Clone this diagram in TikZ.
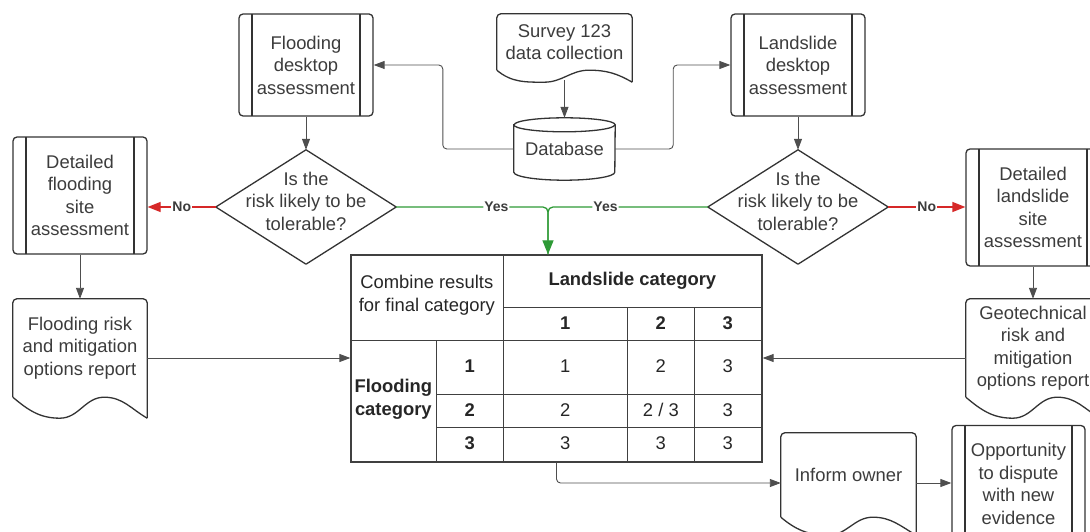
\documentclass[tikz,border=0pt]{standalone}
\usepackage{fontspec}
\setmainfont{Liberation Sans}
\usetikzlibrary{arrows.meta,calc}

\definecolor{txtgray}{HTML}{3C3C3C}
\definecolor{linegray}{HTML}{4E4E4E}
\definecolor{nored}{HTML}{D62828}
\definecolor{yesgreen}{HTML}{2E9A36}

% document outline under node #1, wave depth #2
\newcommand{\docwave}[2]{%
  \draw[shapeline,rounded corners=4pt] (#1.south west) -- (#1.north west) -- (#1.north east) -- ([yshift=-#2]#1.south east);
  \draw[shapeline] (#1.south west) to[out=-40,in=180] ($(#1.south west)!0.35!(#1.south east)+(0,-#2)$)
    to[out=0,in=180] ($(#1.south west)!0.68!(#1.south east)$) to[out=0,in=150] ([yshift=-#2]#1.south east);
}
% decision outline round node #1
\newcommand{\decision}[1]{%
  \draw[shapeline,line join=round] (#1.north) -- (#1.east) -- (#1.south) -- (#1.west) -- cycle;
}

\begin{document}
\begin{tikzpicture}[x=1pt,y=1pt,
    font=\fontsize{18.4pt}{22.5pt}\selectfont,
    shapeline/.style={draw=black!80,line width=1.3pt},
    procbox/.style={shapeline,rounded corners=4pt,align=center,text=txtgray,
      minimum width=134pt,minimum height=117pt,inner sep=0pt,
      path picture={\draw[shapeline]
        ([xshift=13pt]path picture bounding box.north west) -- ([xshift=13pt]path picture bounding box.south west)
        ([xshift=-13pt]path picture bounding box.north east) -- ([xshift=-13pt]path picture bounding box.south east);}},
    docbox/.style={align=center,text=txtgray,minimum width=134pt,inner sep=0pt},
    askbox/.style={minimum width=180pt,minimum height=114pt,inner sep=0pt},
    asktext/.style={align=center,text=txtgray,yshift=6pt},
    tblline/.style={draw=black!75,line width=1.3pt},
    cell/.style={text=black!85},
    headcell/.style={text=black!85,font=\fontsize{18.4pt}{22.5pt}\selectfont\bfseries},
    lbl/.style={fill=white,inner sep=1pt,text=txtgray,font=\fontsize{14pt}{16pt}\selectfont\bfseries},
    arr/.style={draw=linegray,line width=0.9pt,-{Triangle[length=11pt,width=8pt]}},
    noarr/.style={draw=nored,line width=1.3pt,-{Triangle[length=13pt,width=10pt]}},
    yesline/.style={draw=yesgreen,line width=1.3pt},
    yesarr/.style={yesline,-{Triangle[length=14pt,width=11pt]}}]
\useasboundingbox (0,0) rectangle (1090,531);

% top row
\node[procbox,minimum height=102pt] (fdesk) at (306,466) {Flooding\\desktop\\assessment};
\node[procbox,minimum height=102pt] (ldesk) at (798,466) {Landslide\\desktop\\assessment};
\node[docbox,minimum width=135pt,minimum height=56pt] (survey) at (564.5,489) {Survey 123\\data collection};
\docwave{survey}{12}
\node[text=txtgray,minimum width=101pt,minimum height=62pt,inner sep=0pt] (db) at (564.5,382) {Database};
\draw[shapeline] ([yshift=-7pt]db.north west) -- ([yshift=8pt]db.south west)
  arc[start angle=180,end angle=360,x radius=50.5pt,y radius=8pt] -- ([yshift=-7pt]db.north east)
  arc[start angle=0,end angle=180,x radius=50.5pt,y radius=7pt] -- cycle;
\draw[shapeline] ([yshift=-7pt]db.north west) arc[start angle=180,end angle=360,x radius=50.5pt,y radius=7pt];

% decisions
\node[askbox,label={[asktext]center:Is the\\risk likely to be\\tolerable?}] (fdia) at (306,324) {};
\decision{fdia}
\node[askbox,label={[asktext]center:Is the\\risk likely to be\\tolerable?}] (ldia) at (798,324) {};
\decision{ldia}

% site assessments and reports
\node[procbox] (fsite) at (80,335.5) {Detailed\\flooding\\site\\assessment};
\node[procbox] (lsite) at (1033,323.5) {Detailed\\landslide\\site\\assessment};
\node[docbox,minimum height=98pt] (frep) at (80,183) {Flooding risk\\and mitigation\\options report};
\docwave{frep}{21}
\node[docbox,minimum height=98pt] (grep) at (1033,183) {Geotechnical\\risk and\\mitigation\\options report};
\docwave{grep}{21}

% category table
\node[tblline,minimum width=411pt,minimum height=207pt] (tbl) at (556.5,172.5) {};
\begin{scope}[shift={(tbl.north west)}]
  \draw[tblline] (153,0) -- (153,-207) (0,-86) -- (411,-86) (153,-53) -- (411,-53);
  \draw[tblline] (277,-53) -- (277,-207) (344,-53) -- (344,-207) (86,-86) -- (86,-207);
  \draw[tblline] (86,-140) -- (411,-140) (86,-173) -- (411,-173);
  \node[cell,align=center] (combine) at (76.5,-41) {Combine results\\for final category};
  \node[headcell] (lcat) at (282,-26) {Landslide category};
  \node[headcell,align=center] (fcat) at (43,-145) {Flooding\\category};
  \foreach \n/\x in {1/215,2/310.5,3/377.5}
    \node[headcell] (lh\n) at (\x,-69) {\n};
  \foreach \n/\y/\a/\b/\c in {1/112/1/2/3,2/156/2/{2 / 3}/3,3/189/3/3/3} {
    \node[headcell] (fh\n) at (119.5,-\y) {\n};
    \node[cell] (v\n a) at (215,-\y) {\a};
    \node[cell] (v\n b) at (310.5,-\y) {\b};
    \node[cell] (v\n c) at (377.5,-\y) {\c};
  }
\end{scope}

% bottom row
\node[docbox,minimum width=135pt,minimum height=84pt] (owner) at (848.5,56) {Inform owner};
\docwave{owner}{18}
\node[procbox,minimum width=133pt] (opp) at (1018.5,47) {Opportunity\\to dispute\\with new\\evidence};

% connectors
\draw[arr] ([yshift=-10pt]survey.south) -- (db.north);
\draw[arr,rounded corners=4pt] (db.west) -- ++(-71,0) |- (fdesk.east);
\draw[arr,rounded corners=4pt] (db.east) -- ++(58,0) |- (ldesk.west);
\draw[arr] (fdesk.south) -- (fdia.north);
\draw[arr] (ldesk.south) -- (ldia.north);
\draw[noarr] (fdia.west) -- node[lbl]{No} (fdia.west -| fsite.east);
\draw[noarr] (ldia.east) -- node[lbl]{No} (ldia.east -| lsite.west);
\coordinate (yj) at (548,324);
\draw[yesarr,rounded corners=5pt] (fdia.east) -| node[lbl,pos=0.33]{Yes} (yj |- tbl.north);
\draw[yesline,rounded corners=5pt] (ldia.west) -| node[lbl,pos=0.32]{Yes} (yj |- tbl.north);
\draw[arr] (fsite.south) -- (frep.north);
\draw[arr] (lsite.south) -- (grep.north);
\draw[arr] ([yshift=-10pt]frep.east) -- ([yshift=-10pt]frep.east -| tbl.west);
\draw[arr] ([yshift=-10pt]grep.west) -- ([yshift=-10pt]grep.west -| tbl.east);
\draw[arr,rounded corners=4pt] (tbl.south) |- ([yshift=-8pt]owner.west);
\draw[arr] ([yshift=-8pt]owner.east) -- ([yshift=-8pt]owner.east -| opp.west);
\end{tikzpicture}
\end{document}
